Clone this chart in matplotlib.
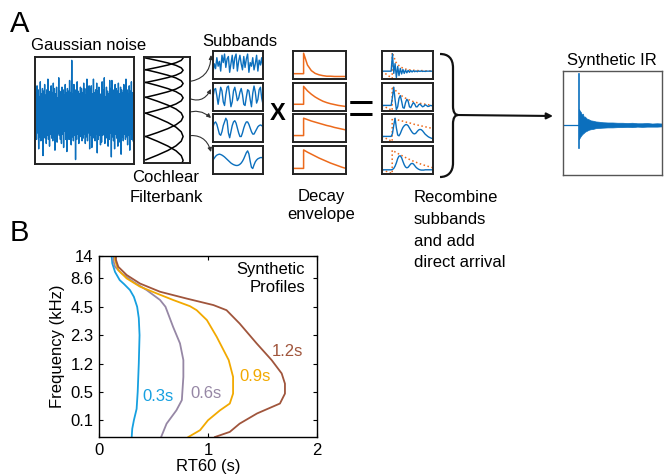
import numpy as np
import matplotlib
matplotlib.use('Agg')
import matplotlib.pyplot as plt
from matplotlib.path import Path
from matplotlib.patches import PathPatch

plt.rcParams['font.family'] = ['Liberation Sans', 'DejaVu Sans']
plt.rcParams['font.size'] = 12

W, H = 666, 475
BLUE = '#0b6fbd'
ORANGE = '#ec6a1c'

# ---------------- panel A data ----------------
noise = [1.6, -1.9, 2.1, -1.4, 1.8, -2.6, 1.3, -1.7, 2.4, -2.0, 1.5, -1.6, 1.9, -3.1, 1.7, -1.5, 2.2, -1.8, 1.4, -2.2,
         1.8, -1.6, 2.6, -1.9, 1.5, -2.4, 1.7, -1.5, 2.1, -1.8, 1.6, -2.0, 2.3, -1.7, 1.9, -2.7, 1.5, -1.6, 2.0, -2.1,
         1.2, -1.4, 2.7, -1.6, 1.7, -1.9, 1.3, -2.2, 2.0, -1.5, 1.8, -2.5, 1.4, -1.3, 2.2, -1.9, 1.6, -2.8, 1.9, -1.6,
         1.7, -1.9, 2.5, -1.5, 1.6, -2.3, 4.0, -1.7, 1.5, -2.0, 2.2, -1.6, 1.8, -3.4, 1.6, -1.9, 2.4, -1.5, 1.7, -2.2,
         1.5, -1.7, 2.0, -1.4, 1.9, -2.0, 1.6, -1.8, 2.3, -1.5, 1.9, -2.2, 1.4, -1.7, 2.6, -2.0, 1.5, -1.4, 2.1, -2.6,
         1.9, -1.6, 2.1, -2.5, 1.5, -1.8, 2.6, -1.7, 1.6, -2.0, 1.8, -1.5, 2.3, -2.9, 1.7, -1.9, 2.0, -1.6, 1.5, -2.3,
         1.4, -2.1, 2.4, -1.6, 1.8, -1.5, 2.7, -2.2, 1.3, -1.8, 2.0, -1.6, 1.7, -2.4, 1.5, -1.9, 2.5, -1.4, 1.9, -3.2,
         2.5, -1.7, 1.8, -2.0, 1.6, -2.6, 2.2, -1.5, 1.9, -1.8, 1.7, -2.4, 2.3, -1.6, 1.5, -2.1, 2.0, -3.0, 1.8, -1.7,
         1.6, -2.0, 2.2, -1.5, 1.4, -1.9, 2.6, -1.7, 1.8, -2.3, 1.5, -1.6, 2.1, -2.7, 1.7, -1.5, 2.4, -1.9, 1.6, -2.0]

# cochlear filter shape and band edges (fraction of box height)
hump = [0, 0.31, 0.59, 0.81, 0.95, 1.0, 0.95, 0.81, 0.59, 0.31, 0]
band_edges = [-0.1, 0.01, 0.12, 0.24, 0.38, 0.53, 0.75, 0.97, 1.2]

sub1 = [-0.6, 0.1, -0.3, 0.6, -0.1, 0.3, -0.5, 0.8, 0.2, 0.9, -0.2, 0.5, 0.7, -0.6, 0.1, 0.8, -0.3, 0.6, 0.9, -0.5,
        0.3, 0.8, 0.1, -0.4, 0.7, -0.2, 0.5, 0.9, -0.6, 0.2, -0.1, 0.6, -0.4, 0.1, 0.8, -0.5, 0.4, 0.0, 0.6, -0.3]
sub2 = [0.0, 0.6, 0.7, 0.1, -0.6, 0.1, 0.8, 0.5, -0.4, -0.7, 0.2, 0.8, 0.9, 0.1, -0.8, -0.4, 0.5, 0.8, 0.3, -0.3,
        -0.1, 0.4, 0.7, 0.2, -0.6, -0.7, 0.0, 0.6, 0.5, -0.2, -0.8, 0.3, 0.9, 0.4, -0.5, -0.2, 0.6, 0.8, -0.1, -0.6]
sub3 = [0.1, 0.4, 0.5, 0.3, -0.1, -0.5, -0.6, -0.3, 0.2, 0.5, 0.8, 0.6, -0.4, -0.8, -0.3, 0.2, 0.5, 0.6, 0.4, 0.0,
        -0.4, -0.7, -0.7, -0.4, 0.0, 0.3, 0.5, 0.5, 0.3, 0.0, -0.3, -0.5, -0.5, -0.3, -0.1, 0.1, 0.2, 0.25, 0.2, 0.1]
sub4 = [0.0, 0.15, 0.3, 0.4, 0.45, 0.48, 0.45, 0.4, 0.33, 0.25, 0.15, 0.05, -0.05, -0.15, -0.25, -0.32, -0.38, -0.42, -0.45, -0.45,
        -0.42, -0.35, -0.25, -0.1, 0.1, 0.35, 0.6, 0.75, 0.5, -0.1, -0.6, -0.7, -0.4, -0.15, 0.0, 0.1, 0.15, 0.2, 0.2, 0.15]
subbands = [sub1, sub2, sub3, sub4]

onset = 0.2
decay_pre = [0.19, 0.24, 0.23, 0.2]
dec1 = [0.92, 0.5, 0.3, 0.2, 0.15, 0.12, 0.1, 0.1, 0.09, 0.09, 0.09, 0.09]
dec2 = [0.88, 0.72, 0.6, 0.5, 0.42, 0.35, 0.3, 0.26, 0.23, 0.2, 0.18, 0.16]
dec3 = [0.85, 0.8, 0.75, 0.71, 0.67, 0.63, 0.59, 0.56, 0.52, 0.49, 0.46, 0.43]
dec4 = [0.86, 0.78, 0.71, 0.64, 0.57, 0.51, 0.45, 0.39, 0.34, 0.29, 0.24, 0.2]
decays = [dec1, dec2, dec3, dec4]

prod_pre = [0.28, 0.2, 0.2, 0.15]
env1 = [0.95, 0.6, 0.45, 0.38, 0.34, 0.32, 0.31, 0.3, 0.3, 0.29, 0.29, 0.29]
env2 = [0.88, 0.72, 0.6, 0.5, 0.43, 0.37, 0.32, 0.29, 0.26, 0.24, 0.22, 0.21]
env3 = [0.85, 0.81, 0.77, 0.74, 0.7, 0.67, 0.63, 0.6, 0.57, 0.54, 0.51, 0.48]
env4 = [0.85, 0.77, 0.7, 0.63, 0.56, 0.5, 0.44, 0.39, 0.34, 0.3, 0.26, 0.22]
prod_env = [env1, env2, env3, env4]

prod1 = [0.28, 0.28, 0.28, 0.28, 0.28, 0.28, 0.28, 0.28, 0.9, 0.2, 0.55, 0.05, 0.45, 0.12, 0.38, 0.18, 0.34, 0.2,
         0.32, 0.22, 0.31, 0.24, 0.3, 0.25, 0.3, 0.26, 0.29, 0.26, 0.29, 0.27, 0.29, 0.27, 0.28, 0.27, 0.28, 0.28,
         0.28, 0.28, 0.28, 0.28]
prod2 = [0.2, 0.2, 0.2, 0.2, 0.2, 0.2, 0.2, 0.2, 0.5, 0.85, 0.4, 0.05, 0.15, 0.45, 0.55, 0.35, 0.12, 0.1, 0.3, 0.42,
         0.35, 0.15, 0.12, 0.22, 0.3, 0.25, 0.15, 0.15, 0.22, 0.25, 0.2, 0.15, 0.17, 0.22, 0.2, 0.16, 0.17, 0.2, 0.19, 0.18]
prod3 = [0.2, 0.2, 0.2, 0.2, 0.2, 0.2, 0.2, 0.2, 0.3, 0.6, 0.85, 0.5, 0.25, 0.22, 0.3, 0.42, 0.52, 0.58, 0.62, 0.62,
         0.58, 0.5, 0.42, 0.35, 0.3, 0.29, 0.32, 0.38, 0.43, 0.45, 0.44, 0.4, 0.34, 0.28, 0.24, 0.2, 0.17, 0.15, 0.13, 0.12]
prod4 = [0.15, 0.15, 0.15, 0.15, 0.15, 0.15, 0.15, 0.15, 0.16, 0.2, 0.28, 0.4, 0.55, 0.64, 0.65, 0.58, 0.45, 0.33, 0.25,
         0.22, 0.24, 0.3, 0.36, 0.38, 0.36, 0.3, 0.24, 0.2, 0.17, 0.15, 0.14, 0.14, 0.14, 0.15, 0.15, 0.15, 0.15, 0.15,
         0.15, 0.15]
products = [prod1, prod2, prod3, prod4]

ir_onset = 0.16
ir_spike = [1.98, -0.88]
ir_t = [0.16, 0.17, 0.18, 0.19, 0.2, 0.21, 0.22, 0.24, 0.26, 0.28, 0.3, 0.33, 0.36, 0.4, 0.45, 0.5, 0.55, 0.6,
        0.65, 0.7, 0.75, 0.8, 0.85, 0.9, 0.95, 1.0]
ir_up = [0.62, 0.55, 0.5, 0.4, 0.44, 0.32, 0.33, 0.25, 0.22, 0.18, 0.17, 0.14, 0.13, 0.11, 0.1, 0.1, 0.09, 0.09,
         0.08, 0.09, 0.07, 0.07, 0.08, 0.06, 0.07, 0.06]
ir_lo = [-0.55, -0.48, -0.42, -0.37, -0.33, -0.3, -0.26, -0.22, -0.18, -0.16, -0.15, -0.12, -0.11, -0.1, -0.09, -0.09,
         -0.08, -0.08, -0.07, -0.08, -0.06, -0.07, -0.06, -0.06, -0.06, -0.05]

# ---------------- panel B data ----------------
freq_labels = ['0.1', '0.5', '1.2', '2.3', '4.5', '8.6', '14']
freq_pos = [0, 1, 2, 3, 4, 5, 5.79]
rt_names = ['0.3s', '0.6s', '0.9s', '1.2s']
rt_colors = ['#16a0e0', '#9687a5', '#f2a900', '#a0553c']
rt03_x = [0.30, 0.305, 0.32, 0.345, 0.355, 0.365, 0.372, 0.365, 0.35, 0.32, 0.284, 0.23, 0.19, 0.147, 0.122, 0.116]
rt03_y = [-0.59, -0.3, 0.0, 0.4, 1.0, 2.0, 3.0, 3.6, 4.0, 4.35, 4.59, 4.8, 4.94, 5.23, 5.53, 5.79]
rt06_x = [0.57, 0.62, 0.71, 0.76, 0.774, 0.774, 0.743, 0.68, 0.61, 0.56, 0.437, 0.315, 0.208, 0.147, 0.13, 0.138]
rt06_y = [-0.59, -0.12, 0.35, 0.71, 1.53, 2.12, 2.71, 3.29, 4.0, 4.24, 4.59, 4.88, 5.18, 5.41, 5.65, 5.79]
rt09_x = [0.82, 0.927, 1.0, 1.11, 1.2, 1.23, 1.23, 1.19, 1.08, 0.99, 0.896, 0.835, 0.68, 0.53, 0.376, 0.254, 0.177,
          0.147, 0.147]
rt09_y = [-0.59, -0.35, 0.0, 0.35, 0.59, 0.94, 1.53, 2.12, 2.94, 3.53, 3.88, 4.02, 4.24, 4.47, 4.71, 5.0, 5.29,
          5.65, 5.79]
rt12_x = [1.064, 1.2, 1.29, 1.45, 1.66, 1.706, 1.706, 1.676, 1.584, 1.446, 1.29, 1.17, 1.05, 0.804, 0.56, 0.376,
          0.254, 0.177, 0.156, 0.156]
rt12_y = [-0.59, -0.41, -0.12, 0.24, 0.59, 0.94, 1.29, 1.65, 2.12, 2.71, 3.41, 3.88, 4.06, 4.29, 4.53, 4.82, 5.12,
          5.41, 5.65, 5.79]
rt_label_x = [0.544, 0.98, 1.43, 1.73]
rt_label_y = [0.82, 0.94, 1.53, 2.41]

fig = plt.figure(figsize=(W / 100, H / 100), dpi=100)

# overlay in pixel coordinates for labels, arrows and brace
ov = fig.add_axes([0, 0, 1, 1])
ov.set_xlim(0, W)
ov.set_ylim(H, 0)
ov.axis('off')


def box(x0, y0, x1, y1, lw=1.4, ec='#222222'):
    ax = fig.add_axes([x0 / W, 1 - y1 / H, (x1 - x0) / W, (y1 - y0) / H])
    ax.set_xticks([])
    ax.set_yticks([])
    for s in ax.spines.values():
        s.set_linewidth(lw)
        s.set_color(ec)
    return ax


# Gaussian noise
ax = box(35, 57, 134, 164)
ax.plot(np.linspace(0, 1, len(noise)), noise, color=BLUE, lw=1.0)
ax.set_xlim(-0.01, 1.01)
ax.set_ylim(-3.73, 4.25)

# Cochlear filterbank
ax = box(144, 57, 190, 163)
for i in range(len(band_edges) - 2):
    yy = np.linspace(band_edges[i], band_edges[i + 2], len(hump))
    ax.plot(0.04 + 0.81 * np.array(hump), yy, color='k', lw=1.1)
ax.set_xlim(0, 1)
ax.set_ylim(1, 0)

rows = [(51, 79), (83, 111), (114, 142), (146, 174)]
for (r0, r1), sb, dc, pre, env, pr, ppre in zip(rows, subbands, decays, decay_pre, prod_env, products, prod_pre):
    # subband
    ax = box(213, r0, 263, r1)
    ax.plot(np.linspace(0, 1, len(sb)), sb, color=BLUE, lw=1.0)
    ax.set_xlim(0, 1)
    ax.set_ylim(-1.15, 1.15)
    # decay envelope
    ax = box(293, r0, 346, r1)
    ax.plot(np.r_[0, onset, np.linspace(onset, 1, len(dc))], np.r_[pre, pre, dc], color=ORANGE, lw=1.1)
    ax.set_xlim(0, 1)
    ax.set_ylim(0, 1)
    # product
    ax = box(382, r0, 433, r1)
    ax.plot(np.r_[0, onset, np.linspace(onset, 1, len(env))], np.r_[ppre, 0.02, env], color=ORANGE, lw=1.1, ls=':')
    ax.plot(np.linspace(0, 1, len(pr)), pr, color=BLUE, lw=1.0)
    ax.set_xlim(0, 1)
    ax.set_ylim(0, 1)

# Synthetic IR
ax = box(563, 71, 662, 175, lw=1.0, ec='#555555')
ax.plot([0, ir_onset], [0, 0], color=BLUE, lw=0.9)
ax.plot([ir_onset, ir_onset], ir_spike, color=BLUE, lw=1.2)
ax.fill_between(ir_t, ir_lo, ir_up, color=BLUE, lw=0.5)
ax.set_xlim(0, 1)
ax.set_ylim(-1.92, 2.08)

# texts panel A
ov.text(10, 24, 'A', fontsize=21, va='center', ha='left')
ov.text(89, 46, 'Gaussian noise', ha='center', va='center')
ov.text(240, 42, 'Subbands', ha='center', va='center')
ov.text(166, 177, 'Cochlear', ha='center', va='center')
ov.text(166, 197, 'Filterbank', ha='center', va='center')
ov.text(321, 196, 'Decay', ha='center', va='center')
ov.text(321, 215, 'envelope', ha='center', va='center')
for k, line in enumerate(['Recombine', 'subbands', 'and add', 'direct arrival']):
    ov.text(414, 198 + 21.5 * k, line, ha='left', va='center')
ov.text(612, 60, 'Synthetic IR', ha='center', va='center')
ov.text(278, 114, 'X', fontsize=17, fontweight='bold', ha='center', va='center')
ov.text(361, 112, '=', fontsize=33, ha='center', va='center')

# arrows filterbank -> subbands
for (sx, sy), (tx, ty), rad in [((186, 82), (211, 55), 0.45), ((186, 97), (211, 89), 0.5),
                                 ((186, 113), (211, 118), -0.3), ((186, 136), (211, 152), -0.45)]:
    ov.annotate('', xy=(tx, ty), xytext=(sx, sy),
                arrowprops=dict(arrowstyle='-|>', lw=0.8, color='#333333', mutation_scale=6,
                                shrinkA=0, shrinkB=0, connectionstyle=f'arc3,rad={rad}'))

# brace and arrow to synthetic IR
verts = [(440, 54), (448, 54), (453, 58), (453, 68), (453, 106), (453, 112), (455, 115), (458, 115),
         (455, 115), (453, 118), (453, 124), (453, 163), (453, 172), (448, 177), (440, 177)]
codes = [Path.MOVETO, Path.CURVE4, Path.CURVE4, Path.CURVE4, Path.LINETO, Path.CURVE4, Path.CURVE4, Path.CURVE4,
         Path.CURVE4, Path.CURVE4, Path.CURVE4, Path.LINETO, Path.CURVE4, Path.CURVE4, Path.CURVE4]
ov.add_patch(PathPatch(Path(verts, codes), fc='none', ec='#111111', lw=1.6))
ov.annotate('', xy=(553, 116), xytext=(457, 115),
            arrowprops=dict(arrowstyle='-|>', lw=1.5, color='#111111', mutation_scale=9, shrinkA=0, shrinkB=0))

# ---------------- panel B ----------------
ov.text(10, 233, 'B', fontsize=21, va='center', ha='left')
bx = fig.add_axes([99 / W, 1 - 437 / H, 218 / W, 181 / H])
for xs, ys, c in zip([rt03_x, rt06_x, rt09_x, rt12_x], [rt03_y, rt06_y, rt09_y, rt12_y], rt_colors):
    bx.plot(xs, ys, color=c, lw=1.3)
for name, c, lx, ly in zip(rt_names, rt_colors, rt_label_x, rt_label_y):
    bx.text(lx, ly, name, color=c, ha='center', va='center', fontsize=12)
bx.text(1.89, 5.0, 'Synthetic\nProfiles', ha='right', va='center', fontsize=12, linespacing=1.25)
bx.set_xlim(0, 2)
bx.set_ylim(-0.59, 5.79)
bx.set_xticks([0, 1, 2])
bx.set_yticks(freq_pos)
bx.set_yticklabels(freq_labels)
bx.tick_params(direction='in', length=3, width=0.8, top=True, right=True, labelsize=12, pad=4)
for s in bx.spines.values():
    s.set_linewidth(1.0)
bx.set_xlabel('RT60 (s)', fontsize=12, labelpad=1)
bx.set_ylabel('Frequency (kHz)', fontsize=12, labelpad=4)

fig.savefig('out.png', dpi=100)
